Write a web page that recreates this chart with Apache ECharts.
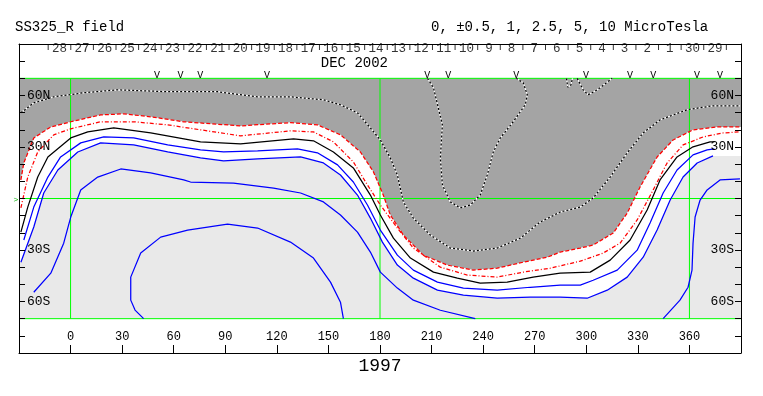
<!DOCTYPE html>
<html><head><meta charset="utf-8">
<script src="https://cdn.jsdelivr.net/npm/echarts@6/dist/echarts.min.js"></script>
<style>html,body{margin:0;padding:0;background:#fff}#c{width:763px;height:396px}</style>
</head><body><div id="c"></div>
<script>
// ---------- data (longitude, latitude) ----------
const lonTicks = [0,30,60,90,120,150,180,210,240,270,300,330,360];
const latTickLabels = {'60':'60N','30':'30N','-30':'30S','-60':'60S'};
const dateLabels = ['28','27','26','25','24','23','22','21','20','19','18','17','16','15','14','13','12','11','10','9','8','7','6','5','4','3','2','1','30','29'];
const dateFirstLon = -6.45;   // centre of first day label (Carrington lon)
const dayLon = 13.15;         // degrees per day
const vMarkerLons = [50.3,63.9,75.5,114.3,207.5,219.7,259.2,299.9,325.5,338.9,364.4,377.8];
const greenLats = [70,0,-70];
const greenLons = [0,180,360];

const contourNeg25 = [[-28.9,49.9],[-21.4,55.7],[-9.8,59.2],[7.7,61.6],[27.4,63.3],[56.5,62.2],[85.5,62.2],[108.8,59.2],[127.9,59.2],[147.1,57.5],[157.0,54.6],[166.9,49.9],[174.4,41.1],[180.2,34.1],[186.0,23.6],[190.1,13.7],[193.6,-2.0],[199.4,-11.4],[209.3,-21.3],[220.9,-28.9],[234.3,-30.6],[248.2,-28.9],[261.6,-23.1],[273.2,-13.7],[284.8,-7.9],[296.5,-5.0],[304.0,0.3],[313.9,12.5],[323.8,26.6],[333.1,38.2],[342.9,45.8],[358.6,51.7],[373.7,54.0],[389.4,54.0]];
const contourNeg25b = [[207.6,70],[211.1,64.5],[216.3,42.9],[215.1,23.6],[216.3,7.9],[220.9,-2.0],[226.7,-5.5],[232.5,-3.8],[238.3,2.0],[242.4,13.7],[245.9,27.1],[250.0,35.3],[257.5,44.7],[264.5,54.6],[265.7,60.4],[263.3,67.4],[259.3,70]];
const contourNeg25c = [[288.5,70],[289.2,64.8],[291.0,66],[292.0,70]];
const contourNeg25d = [[294.7,70],[298.2,63.3],[301.1,60.4],[306.4,63.3],[315.1,70]];

const contourNeg1 = [[-28.9,10.8],[-27.2,20.7],[-21.4,35.3],[-11.5,41.7],[0.1,44.7],[17.5,48.7],[30.9,49.3],[46.6,47.6],[65.8,44.7],[98.9,42.3],[127.9,44.2],[143.6,42.9],[157.0,37.1],[168.6,27.1],[176.2,15.5],[181.9,2.0],[186.0,-9.6],[193.6,-21.3],[205.2,-33.0],[219.2,-38.8],[234.3,-41.7],[248.2,-40.6],[263.3,-37.1],[277.3,-34.2],[284.8,-31.2],[296.5,-28.9],[304.0,-27.1],[315.7,-20.1],[323.8,-8.5],[331.3,6.7],[341.2,24.2],[350.5,34.1],[362.1,40.0],[376.1,41.7],[389.4,41.7]];
const contourNeg05 = [[-28.9,-5.5],[-24.9,12.5],[-19.1,27.1],[-9.8,37.1],[0.1,40.6],[17.5,44.7],[36.7,44.7],[56.5,42.9],[75.6,40.0],[98.9,36.5],[127.9,39.4],[141.3,38.8],[152.9,33.0],[164.5,21.3],[172.7,7.9],[180.2,-3.8],[190.1,-17.2],[199.4,-28.9],[215.1,-40.0],[230.8,-44.6],[248.2,-45.8],[263.3,-42.9],[279.0,-40.6],[296.5,-36.5],[309.8,-31.8],[319.7,-26.0],[329.6,-12.5],[338.9,5.0],[347.0,20.7],[356.3,31.2],[368.0,35.9],[379.6,38.2],[389.4,38.8]];
const contour0 = [[-28.9,-19.6],[-24.9,-5.0],[-19.1,12.5],[-13.2,24.2],[0.1,35.3],[10.0,38.8],[25.1,41.1],[46.6,38.2],[75.6,33.0],[98.9,31.8],[129.7,34.7],[141.3,33.6],[152.9,27.1],[164.5,17.8],[174.4,2.0],[180.2,-9.6],[187.8,-23.1],[197.7,-34.7],[211.1,-42.9],[225.0,-46.4],[238.3,-49.3],[254.0,-48.7],[269.1,-45.8],[284.8,-43.5],[302.3,-42.9],[313.9,-35.9],[325.5,-24.2],[335.4,-6.7],[342.9,10.8],[352.8,24.2],[362.1,30.1],[372.0,33.0],[374.5,33.0]];
const contour05 = [[-27.2,-24.2],[-21.4,-5.0],[-13.2,12.5],[-5.8,24.2],[5.9,32.4],[19.3,35.9],[36.7,35.3],[56.5,31.2],[75.6,28.3],[89.0,27.1],[108.8,27.7],[132.0,28.9],[143.6,26.6],[155.3,19.6],[164.5,9.6],[172.7,-3.8],[180.2,-18.4],[190.1,-33.0],[199.4,-41.7],[213.4,-48.7],[228.5,-52.2],[248.2,-53.4],[267.4,-51.7],[284.8,-50.5],[296.5,-50.5],[304.0,-47.6],[318.0,-41.7],[329.6,-30.1],[337.1,-14.3],[344.7,3.2],[352.8,16.6],[362.1,25.4],[370.3,28.3],[374.5,28.9]];
const contour1 = [[-28.9,-37.1],[-21.4,-16.6],[-15.6,3.2],[-7.4,16.6],[4.2,27.1],[17.5,32.4],[36.7,31.2],[56.5,27.1],[75.6,23.6],[89.0,21.9],[108.8,23.1],[133.8,24.2],[147.1,20.7],[157.0,13.7],[166.9,2.0],[174.4,-11.4],[181.4,-25.4],[190.1,-38.8],[199.4,-46.4],[213.4,-53.4],[228.5,-56.3],[248.2,-58.1],[267.4,-57.5],[284.8,-57.5],[300.5,-58.1],[312.2,-53.4],[323.8,-45.8],[333.1,-34.2],[341.2,-18.4],[348.8,-0.9],[356.3,12.5],[364.5,20.7],[373.7,24.8]];
const contour25a = [[-21.4,-54.6],[-11.5,-43.5],[-4.0,-26.0],[0.1,-10.8],[5.9,5.0],[15.8,12.5],[29.2,17.2],[46.6,14.9],[65.8,10.8],[69.8,9.6],[94.8,9.0],[118.1,6.1],[133.8,3.2],[147.1,-2.0],[157.0,-9.6],[166.9,-19.6],[174.4,-31.2],[180.2,-42.9],[190.1,-52.2],[199.4,-59.2],[215.1,-65.1],[235.4,-70]];
const contour25b = [[344.7,-70],[354.5,-59.2],[359.2,-51.7],[361.5,-41.7],[362.1,-26.0],[363.3,-10.8],[366.2,-0.9],[370.3,5.0],[377.8,10.8],[389.4,11.4]];
const contour5 = [[42.5,-70],[37.5,-65],[35.0,-59.2],[35.0,-45.8],[40.8,-31.8],[52.4,-22.5],[68.1,-18.4],[91.3,-14.9],[108.8,-17.2],[127.9,-25.4],[141.3,-34.7],[151.2,-48.7],[157.0,-60.4],[158.7,-70]];

// ---------- layout / style ----------
const LON_MIN = -30, LON_MAX = 390, LAT_MAX = 70;
const MONO = '"Liberation Mono", "DejaVu Sans Mono", monospace';
const DARK = '#a4a4a4', LIGHT = '#e9e9e9', GREEN = '#00ff00';
const LW = 1.25;

const mapRegion = [[LON_MIN,LAT_MAX],[LON_MAX,LAT_MAX],[LON_MAX,-LAT_MAX],[LON_MIN,-LAT_MAX]];
const first = a => a[0], last = a => a[a.length-1];
const darkRegion = [[LON_MIN,LAT_MAX],[LON_MAX,LAT_MAX],[LON_MAX,last(contourNeg1)[1]]]
  .concat(contourNeg1.slice().reverse()).concat([[LON_MIN,first(contourNeg1)[1]]]);
const whiteRegion = [[LON_MIN,first(contourNeg1)[1]]].concat(contourNeg1)
  .concat([[LON_MAX,last(contourNeg1)[1]],[LON_MAX,last(contour1)[1]]])
  .concat(contour1.slice().reverse()).concat([[LON_MIN,first(contour1)[1]]]);
// day boundaries (between labels) along the top edge
const dateTickData = dateLabels.concat(['']).map((d,i)=>[dateFirstLon+(i-0.5)*dayLon, 90]);
const dateLabelData = dateLabels.map((d,i)=>[dateFirstLon+i*dayLon, 90, d]);

function polySeries(points, fill, z){
  return {type:'custom', coordinateSystem:'cartesian2d', data:[[0,0]], silent:true, z, clip:true,
    renderItem:(p,api)=>({type:'polygon', shape:{points:points.map(pt=>api.coord(pt))}, style:{fill}})};
}
function contourSeries(data, color, type, z, width){
  return {type:'line', data, symbol:'none', showSymbol:false, silent:true, z, clip:true,
    lineStyle:{color, width: width || LW, type}};
}
const gridLineSeries = greenLats.map(la => contourSeries([[LON_MIN,la],[LON_MAX,la]], GREEN, 'solid', 4, 1))
  .concat(greenLons.map(lo => contourSeries([[lo,LAT_MAX],[lo,-LAT_MAX]], GREEN, 'solid', 4, 1)));

const chart = echarts.init(document.getElementById('c'), null, {renderer:'canvas'});
const yAxisBase = pos => ({
  type:'value', min:-90, max:90, interval:10, position:pos, z:10,
  axisLine:{show:true, onZero:false, lineStyle:{color:'#000', width:1}},
  axisTick:{show:true, inside:true, length:6, lineStyle:{color:'#000'}},
  axisLabel:{show:true, inside:true, interval:0, margin: pos==='left'?8:7, color:'#000',
    fontFamily:MONO, fontSize:13, formatter:v=>latTickLabels[String(v)]||''},
  splitLine:{show:false}
});
chart.setOption({
  animation:false,
  backgroundColor:'#fff',
  grid:{left:19, right:22, top:44, bottom:43, containLabel:false, outerBoundsMode:'none'},
  xAxis:[
    {type:'value', min:LON_MIN, max:LON_MAX, interval:30, position:'bottom', z:10,
     axisLine:{show:true, onZero:false, lineStyle:{color:'#000', width:1}},
     axisTick:{show:true, inside:true, length:8, lineStyle:{color:'#000'}},
     axisLabel:{show:true, inside:true, interval:0, margin:10, color:'#000', fontFamily:MONO, fontSize:12,
       formatter:v=>lonTicks.indexOf(v)>=0?String(v):''},
     splitLine:{show:false}},
    {type:'value', min:LON_MIN, max:LON_MAX, position:'top', z:10,
     axisLine:{show:true, onZero:false, lineStyle:{color:'#000', width:1}},
     axisTick:{show:false}, axisLabel:{show:false}, splitLine:{show:false}}
  ],
  yAxis:[yAxisBase('left'), yAxisBase('right')],
  graphic:[
    {type:'text', x:15, y:27, style:{text:'SS325_R field', font:'14px '+MONO, fill:'#000', verticalAlign:'middle'}},
    {type:'text', x:431, y:27, style:{text:'0, ±0.5, 1, 2.5, 5, 10 MicroTesla', font:'14px '+MONO, fill:'#000', verticalAlign:'middle'}},
    {type:'text', x:388, y:63, style:{text:'DEC 2002', font:'14px '+MONO, fill:'#000', align:'right', verticalAlign:'middle'}},
    {type:'text', x:380, y:366, style:{text:'1997', font:'18px '+MONO, fill:'#000', align:'center', verticalAlign:'middle'}},
    {type:'text', x:16, y:200, style:{text:'>', font:'8px '+MONO, fill:'#00b000', align:'center', verticalAlign:'middle'}}
  ],
  series:[
    polySeries(mapRegion, LIGHT, 1),
    polySeries(darkRegion, DARK, 2),
    polySeries(whiteRegion, '#ffffff', 3)
  ].concat(gridLineSeries).concat([
    contourSeries(contourNeg25, '#ffffff', 'solid', 5),
    contourSeries(contourNeg25b, '#ffffff', 'solid', 5),
    contourSeries(contourNeg25c, '#ffffff', 'solid', 5),
    contourSeries(contourNeg25d, '#ffffff', 'solid', 5),
    contourSeries(contourNeg25, '#000000', [2,2], 6),
    contourSeries(contourNeg25b, '#000000', [2,2], 6),
    contourSeries(contourNeg25c, '#000000', [2,2], 6),
    contourSeries(contourNeg25d, '#000000', [2,2], 6),
    contourSeries(contourNeg1, '#ff0000', [4,2], 6),
    contourSeries(contourNeg05, '#ff0000', [4,2,1,2], 6),
    contourSeries(contour0, '#000000', 'solid', 6),
    contourSeries(contour05, '#0000ff', 'solid', 6),
    contourSeries(contour1, '#0000ff', 'solid', 6),
    contourSeries(contour25a, '#0000ff', 'solid', 6),
    contourSeries(contour25b, '#0000ff', 'solid', 6),
    contourSeries(contour5, '#0000ff', 'solid', 6),
    // day-boundary ticks along the top
    {type:'scatter', data:dateTickData, symbol:'rect', symbolSize:[1,6], symbolOffset:[0,3],
     itemStyle:{color:'#000'}, silent:true, z:8, clip:false},
    // day labels
    {type:'scatter', data:dateLabelData, symbolSize:0, silent:true, z:8, clip:false,
     label:{show:true, position:'inside', offset:[0,4.5], formatter:p=>p.value[2], color:'#000',
       fontFamily:MONO, fontSize:12.5}},
    // V markers
    {type:'custom', coordinateSystem:'cartesian2d', data:vMarkerLons.map(l=>[l,72]), silent:true, z:8, clip:false,
     renderItem:(p,api)=>{
       const pt=api.coord([api.value(0),api.value(1)]);
       return {type:'text', x:pt[0], y:pt[1], style:{text:'V', font:'10px '+MONO, fill:'#000', align:'center', verticalAlign:'middle'}};
     }}
  ])
});
</script>
</body></html>
